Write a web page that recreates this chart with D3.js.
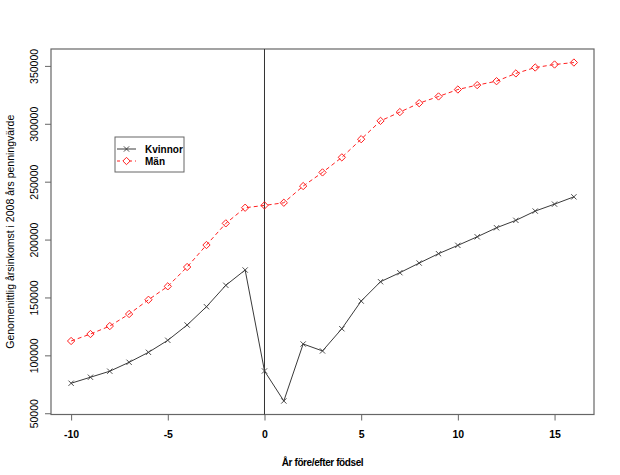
<!DOCTYPE html>
<html>
<head>
<meta charset="utf-8">
<script src="https://cdn.jsdelivr.net/npm/d3@7"></script>
<style>
  body { margin: 0; background: #fff; }
  svg { display: block; }
  text { font-family: Arial, "Liberation Sans", sans-serif; fill: #000; }
</style>
</head>
<body>
<svg id="chart" width="620" height="475"></svg>
<script>
const years = [-10,-9,-8,-7,-6,-5,-4,-3,-2,-1,0,1,2,3,4,5,6,7,8,9,10,11,12,13,14,15,16];
const kvinnor = [75900,81100,86300,94000,102600,113000,126200,142000,160500,173700,86500,60600,109800,103800,123000,146900,163600,171400,179700,187800,195000,202400,210200,216600,224600,230600,236900];
const man = [112400,118400,125300,135700,148000,159600,176300,195300,214000,227500,229500,231800,246200,258000,271000,286700,302500,310100,317800,323600,329600,333400,336800,343500,348600,351200,352900];
const xTicks = [-10,-5,0,5,10,15];
const yTicks = [50000,100000,150000,200000,250000,300000,350000];
const seriesNames = ["Kvinnor","Män"];
const xTitle = "År före/efter födsel";
const yTitle = "Genomenittlig årsinkomst i 2008 års penningvärde";

const svg = d3.select("#chart");
const L = 51, R = 594, T = 49, B = 414.5;

// R-style 4% extension
const xr = d3.extent(years), xe = (xr[1]-xr[0])*0.04;
const x = d3.scaleLinear().domain([xr[0]-xe, xr[1]+xe]).range([L, R]);
const all = kvinnor.concat(man);
const yr = d3.extent(all), ye = (yr[1]-yr[0])*0.04;
const y = d3.scaleLinear().domain([yr[0]-ye, yr[1]+ye]).range([B, T]);

const axisCol = "#666";

// x axis
const xa = svg.append("g").attr("transform", `translate(0,${B})`)
  .call(d3.axisBottom(x).tickValues(xTicks).tickSize(6).tickSizeOuter(0).tickFormat(d3.format("d")));
xa.select(".domain").remove();
xa.selectAll(".tick line").attr("stroke", axisCol);
xa.selectAll(".tick text").attr("y", 16).attr("font-size", 10.5).attr("font-weight", "bold")
  .attr("font-family", "Arial, 'Liberation Sans', sans-serif").text(d => d < 0 ? "-" + Math.abs(d) : d);

// y axis
const ya = svg.append("g").attr("transform", `translate(${L},0)`)
  .call(d3.axisLeft(y).tickValues(yTicks).tickSize(6).tickSizeOuter(0).tickFormat(d3.format("d")));
ya.select(".domain").remove();
ya.selectAll(".tick line").attr("stroke", axisCol);
ya.selectAll(".tick text").attr("x", 0).attr("dy", 0)
  .attr("transform", "translate(-13,0) rotate(-90)")
  .attr("text-anchor", "middle").attr("font-size", 10.5)
  .attr("font-family", "Arial, 'Liberation Sans', sans-serif");

// box
svg.append("rect").attr("x", L).attr("y", T).attr("width", R-L).attr("height", B-T)
  .attr("fill", "none").attr("stroke", axisCol).attr("stroke-width", 1.2);

// vertical line at 0
svg.append("line").attr("x1", x(0)).attr("x2", x(0)).attr("y1", T).attr("y2", B)
  .attr("stroke", "#333").attr("stroke-width", 1);

const line = d3.line().x((d,i) => x(years[i])).y(d => y(d));

// Kvinnor
svg.append("path").datum(kvinnor).attr("d", line).attr("fill", "none")
  .attr("stroke", "#3a3a3a").attr("stroke-width", 1);
const crossSym = d3.symbol().type(d3.symbolX).size(20);
svg.append("g").selectAll("path").data(kvinnor).join("path")
  .attr("transform", (d,i) => `translate(${x(years[i])},${y(d)})`)
  .attr("d", crossSym).attr("fill", "none").attr("stroke", "#3a3a3a").attr("stroke-width", 0.9);

// Män
svg.append("path").datum(man).attr("d", line).attr("fill", "none")
  .attr("stroke", "#ff2020").attr("stroke-width", 1).attr("stroke-dasharray", "4,3");
const diamond = d3.symbol().type(d3.symbolDiamond2).size(34);
svg.append("g").selectAll("path").data(man).join("path")
  .attr("transform", (d,i) => `translate(${x(years[i])},${y(d)})`)
  .attr("d", diamond).attr("fill", "none").attr("stroke", "#ff2020").attr("stroke-width", 1);

// legend
const lg = svg.append("g");
lg.append("rect").attr("x", 115).attr("y", 137).attr("width", 69).attr("height", 35)
  .attr("fill", "#fff").attr("stroke", axisCol).attr("stroke-width", 1);
lg.append("line").attr("x1", 117).attr("x2", 136).attr("y1", 149).attr("y2", 149).attr("stroke", "#3a3a3a");
lg.append("path").attr("transform", "translate(126.5,149)").attr("d", crossSym)
  .attr("fill", "none").attr("stroke", "#3a3a3a").attr("stroke-width", 0.9);
lg.append("line").attr("x1", 117).attr("x2", 136).attr("y1", 161).attr("y2", 161)
  .attr("stroke", "#ff2020").attr("stroke-dasharray", "3,3");
lg.append("path").attr("transform", "translate(126.5,161)").attr("d", diamond)
  .attr("fill", "#fff").attr("stroke", "#ff2020").attr("stroke-width", 1);
lg.append("text").attr("x", 145).attr("y", 152.5).attr("font-size", 10).attr("font-weight", "bold").text(seriesNames[0]);
lg.append("text").attr("x", 145).attr("y", 164.5).attr("font-size", 10).attr("font-weight", "bold").text(seriesNames[1]);

// titles
svg.append("text").attr("x", (L+R)/2).attr("y", 466).attr("text-anchor", "middle")
  .attr("font-size", 10).attr("font-weight", "bold").attr("letter-spacing", -0.4).text(xTitle);
svg.append("text").attr("transform", `translate(14,${(T+B)/2}) rotate(-90)`).attr("text-anchor", "middle")
  .attr("font-size", 10.5).text(yTitle);
</script>
</body>
</html>
